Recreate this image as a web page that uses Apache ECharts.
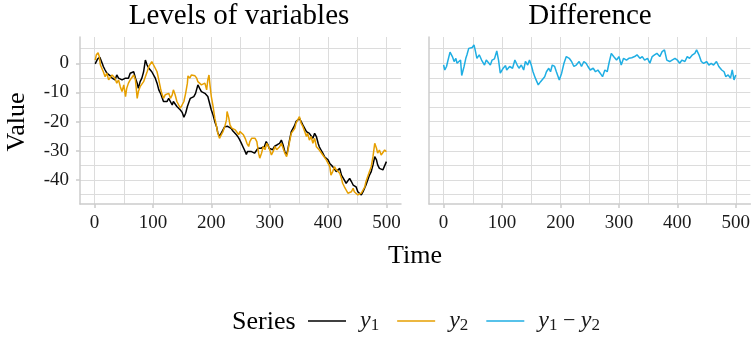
<!DOCTYPE html>
<html>
<head>
<meta charset="utf-8">
<script src="https://cdn.jsdelivr.net/npm/echarts@6/dist/echarts.min.js"></script>
<style>
  html, body { margin: 0; padding: 0; background: #fff; }
  #main { width: 753px; height: 339px; }
</style>
</head>
<body>
<div id="main"></div>
<script>
// y1 (black)
var y1Time = [1,5,9,13,15,18,21,24,27,30,33,35,38,41,44,47,50,53,55,58,61,64,67,70,73,75,78,81,84,87,90,93,95,98,101,104,107,110,113,115,118,121,124,127,130,133,135,138,141,144,147,150,153,156,159,162,164,167,170,173,177,180,183,186,189,192,194,197,200,203,206,209,211,214,217,220,223,226,228,231,234,237,240,243,246,248,251,254,257,260,262,265,268,271,274,277,280,282,285,288,291,294,297,299,302,305,308,311,313,317,320,323,326,329,331,334,337,340,343,345,348,351,354,357,360,363,365,368,371,374,377,380,383,385,388,391,394,397,400,403,405,408,411,414,417,420,423,425,428,431,434,437,440,443,445,448,451,454,457,460,463,465,468,471,474,477,480,483,485,488,491,494,497,500];
var y1Value = [-0.2,1.4,2.1,0,-1.1,-2.3,-3.4,-2.9,-4.3,-5.1,-4.6,-5.7,-4.0,-5.1,-4.6,-5.7,-6.3,-5.1,-4.6,-5.1,-3.4,-4.0,-2.9,-5.1,-6.8,-8.6,-6.3,-5.1,-2.9,1.1,-0.6,-1.7,-1.1,-2.9,-3.4,-5.1,-6.8,-9.1,-10.3,-11.4,-13.1,-12.5,-13.1,-12.0,-12.5,-14.3,-13.1,-13.7,-14.8,-15.4,-16.0,-16.8,-18.5,-17.1,-14.8,-13.1,-12.0,-12.0,-11.4,-10.3,-7.4,-8.6,-9.7,-9.1,-10.3,-9.7,-11.4,-13.7,-16.0,-17.7,-20.0,-21.7,-23.7,-25.1,-23.9,-22.8,-21.7,-21.1,-21.6,-21.5,-22.3,-23.2,-23.8,-24.5,-25.3,-26.0,-27.2,-28.5,-29.8,-31.2,-30.2,-29.6,-30.2,-29.6,-30.8,-30.2,-29.1,-28.5,-29.1,-29.6,-28.5,-26.8,-27.9,-29.1,-29.6,-29.6,-28.5,-29.1,-27.9,-27.4,-26.3,-28.0,-30.3,-31.4,-29.7,-26.3,-23.4,-22.9,-21.2,-20.0,-20.6,-18.9,-20.0,-21.2,-22.3,-23.4,-22.9,-24.0,-23.4,-25.7,-24.0,-25.1,-27.4,-28.6,-29.7,-30.8,-32.0,-32.6,-33.1,-34.3,-33.7,-35.4,-36.0,-37.1,-37.1,-36.0,-38.3,-38.8,-40.0,-41.1,-40.5,-39.4,-40.5,-41.7,-41.1,-42.3,-44.0,-43.4,-45.1,-44.0,-43.4,-41.7,-40.0,-38.3,-37.1,-34.8,-32.0,-33.1,-34.8,-36.0,-35.4,-36.5,-36.0,-33.7];

// y2 (orange)
var y2Time = [1,3,6,8,10,13,15,18,21,24,27,30,33,35,38,41,44,47,50,53,55,58,61,64,67,70,73,75,78,81,84,87,90,93,95,98,101,104,107,110,113,115,118,121,124,127,130,133,135,138,141,144,147,150,153,156,159,160,163,166,169,172,175,177,180,183,186,189,192,194,196,198,200,203,206,209,211,214,217,220,223,226,227,230,232,235,238,241,244,247,249,252,255,258,261,264,266,269,272,275,278,281,283,286,289,292,295,298,300,303,306,309,312,314,317,320,323,326,329,331,334,337,340,343,345,348,351,354,357,360,363,365,368,371,374,377,380,383,385,388,391,394,397,400,403,405,408,411,414,417,420,423,425,428,431,434,437,440,443,445,448,451,454,457,460,463,465,468,471,474,477,480,483,485,488,491,494,497,500];
var y2Value = [1.1,2.9,3.6,2.3,-0.6,-1.1,-2.9,-4.6,-3.4,-5.7,-6.3,-4.0,-3.4,-5.1,-6.8,-5.7,-8.0,-9.7,-7.4,-11.4,-8.6,-6.8,-5.7,-5.1,-4.0,-5.7,-12.0,-9.7,-8.0,-7.4,-6.3,-4.6,-2.9,-1.1,-0.6,0.6,1.1,-1.7,-2.9,-5.7,-8.6,-10.3,-12.0,-10.8,-11.4,-10.3,-12.0,-10.8,-9.1,-10.8,-13.1,-13.7,-15.4,-14.8,-13.1,-10.3,-6.8,-4.3,-5.1,-4.0,-4.6,-4.3,-5.1,-6.3,-5.7,-7.4,-8.0,-6.8,-9.1,-5.7,-4.0,-8.0,-11.4,-14.8,-18.8,-21.7,-23.9,-25.7,-24.5,-23.4,-21.7,-19.4,-16.5,-18.8,-21.1,-22.2,-21.7,-22.8,-23.4,-24.5,-23.4,-23.9,-24.5,-25.7,-27.4,-28.5,-26.8,-25.7,-25.1,-25.7,-26.8,-30.8,-32.5,-30.8,-28.5,-29.6,-27.4,-28.5,-29.6,-31.4,-30.2,-28.5,-29.6,-29.1,-28.6,-27.4,-29.1,-30.8,-32.0,-30.3,-26.9,-24.0,-23.4,-22.3,-20.6,-19.4,-18.3,-20.6,-21.7,-23.4,-25.1,-24.0,-26.3,-25.1,-27.4,-25.7,-28.6,-29.1,-29.7,-30.3,-31.4,-32.0,-33.1,-33.7,-35.4,-38.3,-37.1,-35.4,-36.5,-36.0,-37.7,-39.4,-41.1,-42.3,-43.4,-44.5,-45.1,-44.0,-42.8,-44.0,-43.4,-45.1,-45.7,-44.5,-43.4,-42.3,-40.5,-38.8,-37.1,-35.4,-32.0,-27.4,-29.1,-30.8,-29.7,-31.4,-30.8,-29.7,-30.3];

// y1 - y2 (blue)
var diffTime = [0,2,5,7,11,15,18,21,23,26,29,31,35,38,40,43,46,49,52,54,57,61,65,67,70,73,76,80,83,87,91,94,97,102,106,108,113,118,122,126,129,133,137,140,144,147,150,153,157,162,166,169,173,176,180,183,186,190,193,198,202,206,210,215,219,223,227,232,236,240,244,247,251,256,260,264,268,272,276,280,283,287,291,296,300,304,308,313,317,322,327,331,336,340,344,349,353,357,361,365,370,374,378,382,387,391,396,400,404,408,413,417,421,426,430,433,437,441,445,450,454,458,462,467,471,476,480,483,487,491,494,497,500];
var diffValue = [-0.6,-2.3,-1.1,0.6,3.8,2.3,0.6,1.7,0,-0.6,1.1,-4.2,-1.1,1.7,2.9,5.1,4.6,5.4,6.3,4.6,1.7,2.9,1.1,1.7,-0.6,1.1,0.6,-0.6,1.1,1.5,4.2,1.1,-3.4,-1.7,-0.8,-2.3,-1.1,-1.7,1.1,-0.6,-1.7,-0.6,-2.3,0.6,-0.6,1.1,-0.6,-2.9,-5.1,-7.4,-6.3,-5.7,-4.6,-2.9,-1.7,-2.9,-0.6,-1.1,-2.9,-5.7,-3.4,0,2.3,1.7,0.6,-1.1,-0.6,0.6,-1.1,0.6,0,-1.1,-2.3,-1.7,-2.9,-2.3,-3.4,-4.6,-2.3,-2.9,0,3.4,2.3,1.1,2.3,-0.6,1.7,1.1,1.7,1.9,2.3,2.9,1.7,2.3,1.1,1.7,0,2.3,2.9,3.4,2.3,4.0,4.6,1.1,0.6,1.1,1.7,1.1,0,1.1,0.6,2.3,1.7,2.9,3.4,4.6,2.9,0.6,0,0.6,-0.6,0,-0.6,0.6,-1.1,-2.3,-2.9,-4.6,-4.0,-5.1,-2.3,-5.7,-4.0];

var xMajor = [0, 100, 200, 300, 400, 500];
var xMinor = [50, 150, 250, 350, 450];
var yMajor = [-40, -30, -20, -10, 0];
var yMinor = [-45, -35, -25, -15, -5, 5];

function pairs(ts, vs) {
  var out = [];
  for (var i = 0; i < ts.length; i++) out.push([ts[i], vs[i]]);
  return out;
}

var serif = '"Liberation Serif", "DejaVu Serif", serif';
var gridCol = '#dcdcdc';
var axisCol = '#cccccc';

function xAxisMajor(gi) {
  return {
    type: 'value', gridIndex: gi, min: -25, max: 525,
    axisLine: { show: true, onZero: false, lineStyle: { color: axisCol, width: 1.5 } },
    axisTick: { show: true, length: 4, customValues: xMajor, lineStyle: { color: axisCol, width: 1.5 } },
    axisLabel: { customValues: xMajor, margin: 10, color: '#1a1a1a', fontFamily: serif, fontSize: 19 },
    splitLine: { show: true, lineStyle: { color: gridCol, width: 1 } }
  };
}
function xAxisMinor(gi) {
  return {
    type: 'value', gridIndex: gi, min: -25, max: 525, position: 'bottom',
    axisLine: { show: false }, axisLabel: { show: false },
    axisTick: { show: false, customValues: xMinor },
    splitLine: { show: true, lineStyle: { color: gridCol, width: 1 } }
  };
}
function yAxisMajor(gi, labels) {
  return {
    type: 'value', gridIndex: gi, min: -48.2, max: 9.0,
    axisLine: { show: true, onZero: false, lineStyle: { color: axisCol, width: 1.5 } },
    axisTick: { show: labels, length: 4, customValues: yMajor, lineStyle: { color: axisCol, width: 1.5 } },
    axisLabel: { show: labels, customValues: yMajor, margin: 11, color: '#1a1a1a', fontFamily: serif, fontSize: 19 },
    splitLine: { show: true, lineStyle: { color: gridCol, width: 1 } }
  };
}
function yAxisMinor(gi) {
  return {
    type: 'value', gridIndex: gi, min: -48.2, max: 9.0, position: 'left',
    axisLine: { show: false }, axisLabel: { show: false },
    axisTick: { show: false, customValues: yMinor },
    splitLine: { show: true, lineStyle: { color: gridCol, width: 1 } }
  };
}

var rich = {
  g: { width: 9 },
  i: { fontFamily: serif, fontStyle: 'italic', fontSize: 24, lineHeight: 26, verticalAlign: 'middle', color: '#1a1a1a' },
  s: { fontFamily: serif, fontSize: 17, lineHeight: 16, verticalAlign: 'bottom', color: '#1a1a1a' },
  n: { fontFamily: serif, fontSize: 22, lineHeight: 26, verticalAlign: 'middle', color: '#1a1a1a' }
};
var legendText = {
  'y1': '{g|}{i|y}{s|1}',
  'y2': '{g|}{i|y}{s|2}',
  'y1 − y2': '{g|}{i|y}{s|1}{n| − }{i|y}{s|2}'
};

var option = {
  animation: false,
  backgroundColor: '#ffffff',
  grid: [
    { left: 80, top: 37, width: 321, height: 167 },
    { left: 429, top: 37, width: 322, height: 167 }
  ],
  xAxis: [xAxisMajor(0), xAxisMinor(0), xAxisMajor(1), xAxisMinor(1)],
  yAxis: [yAxisMajor(0, true), yAxisMinor(0), yAxisMajor(1, false), yAxisMinor(1)],
  legend: {
    left: 308, top: 309, padding: 0,
    icon: 'rect', itemWidth: 38, itemHeight: 1.6, itemGap: 18,
    data: ['y1', 'y2', 'y1 − y2'],
    formatter: function (name) { return legendText[name]; },
    textStyle: { rich: rich }
  },
  graphic: [
    { type: 'text', x: 239, y: 16, style: { text: 'Levels of variables', font: '29px ' + serif, fill: '#000', textAlign: 'center', textVerticalAlign: 'middle' } },
    { type: 'text', x: 590, y: 16, style: { text: 'Difference', font: '29px ' + serif, fill: '#000', textAlign: 'center', textVerticalAlign: 'middle' } },
    { type: 'text', x: 17, y: 122, rotation: Math.PI / 2, style: { text: 'Value', font: '26px ' + serif, fill: '#000', textAlign: 'center', textVerticalAlign: 'middle' } },
    { type: 'text', x: 415, y: 256, style: { text: 'Time', font: '26px ' + serif, fill: '#000', textAlign: 'center', textVerticalAlign: 'middle' } },
    { type: 'text', x: 232, y: 322, style: { text: 'Series', font: '26px ' + serif, fill: '#000', textAlign: 'left', textVerticalAlign: 'middle' } }
  ],
  series: [
    { name: 'y1', type: 'line', xAxisIndex: 0, yAxisIndex: 0, symbol: 'none', data: pairs(y1Time, y1Value),
      lineStyle: { color: '#000000', width: 1.5 }, itemStyle: { color: '#000000' } },
    { name: 'y2', type: 'line', xAxisIndex: 0, yAxisIndex: 0, symbol: 'none', data: pairs(y2Time, y2Value),
      lineStyle: { color: '#E69F00', width: 1.5 }, itemStyle: { color: '#E69F00' } },
    { name: 'y1 − y2', type: 'line', xAxisIndex: 2, yAxisIndex: 2, symbol: 'none', data: pairs(diffTime, diffValue),
      lineStyle: { color: '#1FAEE3', width: 1.5 }, itemStyle: { color: '#1FAEE3' } }
  ]
};

echarts.init(document.getElementById('main')).setOption(option);
</script>
</body>
</html>
